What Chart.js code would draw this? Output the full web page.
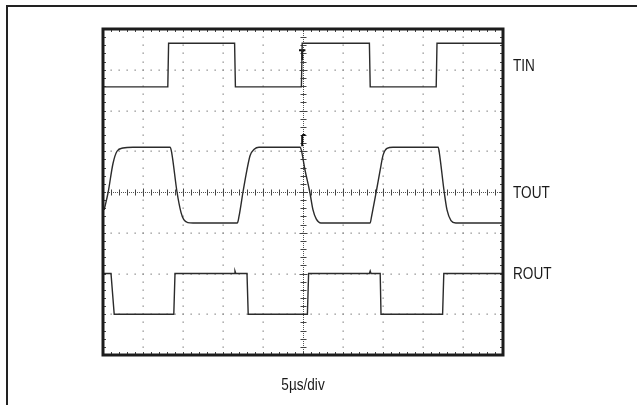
<!DOCTYPE html>
<html>
<head>
<meta charset="utf-8">
<script src="https://cdn.jsdelivr.net/npm/chart.js@4"></script>
<style>
  html,body{margin:0;padding:0;background:#fff}
  #wrap{width:637px;height:405px;position:relative}
</style>
</head>
<body>
<div id="wrap"><canvas id="scope"></canvas></div>
<script>
// time axis in divisions (10 div), volts axis in divisions (8 div)
const xDivs = 10
const yDivs = 8
const timeLabel = '5\u00b5s/div'
const traceNames = ['TIN', 'TOUT', 'ROUT']
const traceLabelLevel = [3.12, 0, -2]

const tinX = [0, 1.62, 1.64, 3.29, 3.31, 4.96, 4.98, 6.66, 6.68, 8.33, 8.35, 10]
const tinY = [2.58, 2.58, 3.65, 3.65, 2.58, 2.58, 3.65, 3.65, 2.58, 2.58, 3.65, 3.65]

const toutX = [0.03, 0.13, 0.25, 0.35, 0.5, 0.75, 1.68, 1.72, 1.85, 1.95, 2.02, 2.12, 2.25,
  3.36, 3.4, 3.5, 3.6, 3.68, 3.78, 3.9,
  4.93, 4.96, 5.05, 5.17, 5.25, 5.33, 5.45,
  6.68, 6.71, 6.83, 6.93, 7.0, 7.1, 7.25,
  8.38, 8.41, 8.53, 8.6, 8.7, 8.82, 10]
const toutY = [-0.44, 0, 0.7, 1.0, 1.08, 1.1, 1.1, 0.95, 0, -0.5, -0.68, -0.75, -0.76,
  -0.76, -0.6, 0, 0.55, 0.9, 1.05, 1.1,
  1.1, 1.02, 0.54, 0, -0.44, -0.66, -0.76,
  -0.76, -0.62, 0, 0.54, 0.9, 1.07, 1.1,
  1.1, 0.95, 0, -0.44, -0.7, -0.76, -0.76]

const routX = [0, 0.2, 0.28, 1.77, 1.8, 3.28, 3.3, 3.32, 3.6, 3.63, 5.11, 5.14, 6.66, 6.68, 6.7, 6.93, 6.95, 8.49, 8.52, 10]
const routY = [-2, -2, -3, -3, -2, -2, -1.94, -2, -2, -3, -3, -2, -2, -1.94, -2, -2, -3, -3, -2, -2]

// trigger markers on the centre line
const markX = [4.9, 5.06, 4.98, 4.98, 4.98, 4.9, 5.06, 4.98, 4.98]
const markY = [3.48, 3.48, null, 3.48, 3.24, null, 1.4, 1.4, null]
const mark2X = [4.98, 4.98]
const mark2Y = [1.4, 1.12]

function pts(xs, ys){
  return xs.map((v, i) => ({x: v, y: ys[i]}))
}

const traceColor = '#2b2b2b'

// draws condensed text (the original uses a narrow Helvetica)
function narrowText(ctx, s, px, py, align){
  ctx.save()
  ctx.translate(px, py)
  ctx.scale(0.8, 1)
  ctx.textAlign = align
  ctx.fillText(s, 0, 0)
  ctx.restore()
}

const scopePlugin = {
  id: 'scope',
  beforeDraw(chart){
    const ctx = chart.ctx
    ctx.save()
    ctx.fillStyle = '#fff'
    ctx.fillRect(0, 0, chart.width, chart.height)
    // outer box
    ctx.strokeStyle = '#222'
    ctx.lineWidth = 2
    ctx.beginPath()
    ctx.moveTo(chart.width, 6)
    ctx.lineTo(7, 6)
    ctx.lineTo(7, chart.height)
    ctx.stroke()
    ctx.restore()
  },
  beforeDatasetsDraw(chart){
    const {ctx, chartArea: a, scales: {x, y}} = chart
    ctx.save()
    ctx.fillStyle = '#8a8a8a'
    // dotted graticule
    for (let i = 1; i < xDivs; i++){
      if (i === xDivs / 2) continue
      const px = x.getPixelForValue(i)
      for (let k = 1; k < yDivs * 5; k++){
        const py = y.getPixelForValue(-yDivs / 2 + k * 0.2)
        ctx.fillRect(Math.round(px) - 0.5, Math.round(py) - 0.5, 1.3, 1.3)
      }
    }
    for (let j = 1; j < yDivs; j++){
      if (j === yDivs / 2) continue
      const py = y.getPixelForValue(-yDivs / 2 + j)
      for (let k = 1; k < xDivs * 5; k++){
        const px = x.getPixelForValue(k * 0.2)
        ctx.fillRect(Math.round(px) - 0.5, Math.round(py) - 0.5, 1.3, 1.3)
      }
    }
    // centre cross with ticks
    const cx = Math.round(x.getPixelForValue(xDivs / 2)) + 0.5
    const cy = Math.round(y.getPixelForValue(0)) + 0.5
    ctx.strokeStyle = '#555'
    ctx.lineWidth = 1
    ctx.setLineDash([1, 1])
    ctx.beginPath()
    ctx.moveTo(cx, a.top); ctx.lineTo(cx, a.bottom)
    ctx.moveTo(a.left, cy); ctx.lineTo(a.right, cy)
    ctx.stroke()
    ctx.setLineDash([])
    ctx.strokeStyle = '#444'
    ctx.beginPath()
    for (let k = 1; k < xDivs * 5; k++){
      const px = Math.round(x.getPixelForValue(k * 0.2)) + 0.5
      const len = k % 5 === 0 ? 4 : 3
      ctx.moveTo(px, cy - len); ctx.lineTo(px, cy + len)
      ctx.moveTo(px, a.top); ctx.lineTo(px, a.top + 3)
      ctx.moveTo(px, a.bottom); ctx.lineTo(px, a.bottom - 3)
    }
    for (let k = 1; k < yDivs * 5; k++){
      const py = Math.round(y.getPixelForValue(-yDivs / 2 + k * 0.2)) + 0.5
      const len = k % 5 === 0 ? 4 : 3
      ctx.moveTo(cx - len, py); ctx.lineTo(cx + len, py)
      ctx.moveTo(a.left, py); ctx.lineTo(a.left + 3, py)
      ctx.moveTo(a.right, py); ctx.lineTo(a.right - 3, py)
    }
    ctx.stroke()
    ctx.restore()
  },
  afterDatasetsDraw(chart){
    const {ctx, chartArea: a, scales: {x, y}} = chart
    ctx.save()
    ctx.strokeStyle = '#1c1c1c'
    ctx.lineWidth = 3
    ctx.strokeRect(a.left, a.top, a.right - a.left, a.bottom - a.top)
    ctx.fillStyle = '#1a1a1a'
    ctx.font = '17px "Liberation Sans", Arial, sans-serif'
    ctx.textBaseline = 'middle'
    traceNames.forEach((n, i) => {
      narrowText(ctx, n, a.right + 10, y.getPixelForValue(traceLabelLevel[i]) + 1, 'left')
    })
    ctx.textBaseline = 'alphabetic'
    narrowText(ctx, timeLabel, x.getPixelForValue(xDivs / 2), a.bottom + 35, 'center')
    ctx.restore()
  }
}

const lineStyle = {
  borderColor: traceColor,
  borderWidth: 1.4,
  pointRadius: 0,
  fill: false
}

new Chart(document.getElementById('scope').getContext('2d'), {
  type: 'line',
  data: {
    datasets: [
      {label: traceNames[0], data: pts(tinX, tinY), ...lineStyle},
      {label: traceNames[1], data: pts(toutX, toutY), ...lineStyle, cubicInterpolationMode: 'monotone'},
      {label: traceNames[2], data: pts(routX, routY), ...lineStyle},
      {label: 'trig', data: pts(markX, markY), ...lineStyle, borderWidth: 2, borderColor: '#111', spanGaps: false},
      {label: 'trig2', data: pts(mark2X, mark2Y), ...lineStyle, borderWidth: 2, borderColor: '#111'}
    ]
  },
  plugins: [scopePlugin],
  options: {
    responsive: true,
    maintainAspectRatio: false,
    animation: false,
    layout: {padding: {left: 103, top: 29, right: 134, bottom: 50}},
    plugins: {legend: {display: false}, tooltip: {enabled: false}},
    scales: {
      x: {type: 'linear', min: 0, max: xDivs, display: false},
      y: {type: 'linear', min: -yDivs / 2, max: yDivs / 2, display: false}
    }
  }
})
</script>
</body>
</html>
